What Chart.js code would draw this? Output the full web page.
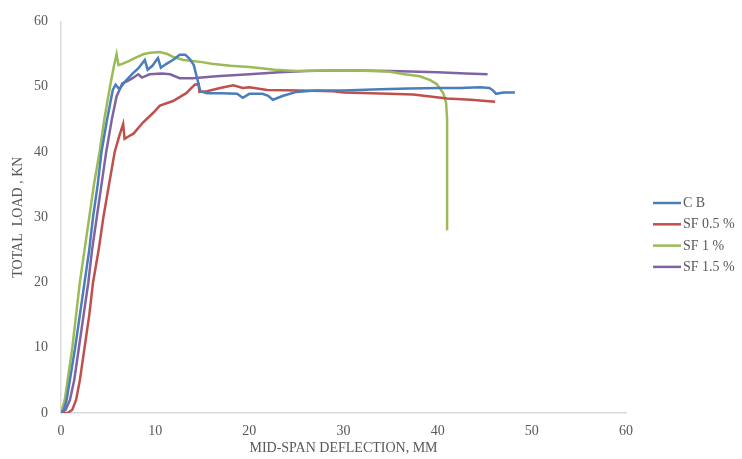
<!DOCTYPE html>
<html>
<head>
<meta charset="utf-8">
<script src="https://cdn.jsdelivr.net/npm/chart.js@4.4.1/dist/chart.umd.min.js"></script>
<style>
  html, body { margin: 0; padding: 0; background: #fff; }
  #wrap { width: 742px; height: 459px; }
</style>
</head>
<body>
<div id="wrap"><canvas id="chart" width="742" height="459"></canvas></div>
<script>
// Load-deflection curves
const seriesNames = ['C B', 'SF 0.5 %', 'SF 1 %', 'SF 1.5 %'];
const seriesColors = ['#4a7ebb', '#c0504d', '#9bbb59', '#8064a2'];

const cbX = [0, 0.3, 0.6, 1.5, 2.0, 2.5, 3.0, 3.4, 3.9, 4.3, 4.9, 5.5, 5.8, 6.2, 6.8, 7.6, 8.2, 8.9, 9.2, 9.7, 10.3, 10.6, 11.2, 12.0, 12.6, 13.2, 13.7, 14.1, 14.4, 14.8, 15.5, 17, 18.7, 19.3, 20, 21.4, 22, 22.5, 23.6, 25, 27, 30, 33.9, 37, 40.2, 42.4, 44.5, 45.5, 45.9, 46.2, 47, 48.2];
const cbY = [0, 0.5, 2, 10, 15, 20, 25, 30, 35, 40, 45, 49.5, 50.3, 49.6, 50.8, 52.0, 52.8, 54.1, 52.6, 53.2, 54.4, 52.9, 53.5, 54.2, 54.9, 54.9, 54.2, 53.3, 51.6, 49.3, 49.0, 49.0, 48.9, 48.3, 48.9, 48.9, 48.6, 48.0, 48.6, 49.2, 49.4, 49.4, 49.6, 49.7, 49.8, 49.8, 49.9, 49.8, 49.4, 48.9, 49.1, 49.1];

const sf05X = [0, 0.7, 1.2, 1.6, 2.0, 2.5, 3.0, 3.4, 4.0, 4.5, 5.1, 5.7, 6.2, 6.6, 6.75, 7.2, 7.7, 8.7, 9.8, 10.5, 11.9, 13.3, 14.2, 14.6, 14.7, 15.5, 16.9, 18.3, 19.3, 20, 21.9, 25.4, 28.9, 30, 33, 37.4, 41, 43.5, 46.1];
const sf05Y = [0, 0, 0.5, 2, 5, 10, 15, 20, 25, 30, 35, 40, 42.5, 44.3, 42.0, 42.4, 42.8, 44.5, 46.0, 47.1, 47.8, 49.0, 50.3, 50.4, 49.2, 49.3, 49.8, 50.2, 49.8, 49.9, 49.5, 49.4, 49.3, 49.1, 49.0, 48.8, 48.2, 48.0, 47.7];

const sf1X = [0, 0.4, 0.8, 1.2, 1.6, 2.0, 2.5, 3.0, 3.5, 4.1, 4.6, 5.2, 5.6, 5.9, 6.1, 6.5, 7.2, 8, 8.8, 9.5, 10.5, 11.3, 12, 13, 14.8, 16, 18, 20, 22.7, 25, 30, 33, 34.9, 36.5, 38.1, 39.2, 39.9, 40.6, 40.9, 41.0, 41.0];
const sf1Y = [0, 2, 6, 10, 15, 20, 25, 30, 35, 40, 45, 50, 53, 55, 53.3, 53.5, 53.9, 54.5, 55.0, 55.2, 55.3, 55.0, 54.5, 54.1, 53.8, 53.5, 53.2, 53.0, 52.6, 52.4, 52.5, 52.4, 52.3, 51.9, 51.6, 51.0, 50.4, 49.0, 47.5, 45, 28.0];

const sf15X = [0, 0.5, 0.95, 1.4, 1.9, 2.4, 2.9, 3.3, 3.8, 4.3, 4.8, 5.4, 5.9, 6.3, 6.5, 7.0, 7.6, 8.2, 8.6, 9.4, 10.7, 11.6, 12.6, 14, 16.5, 20, 23.2, 26, 30, 35, 40, 43, 45.3];
const sf15Y = [0, 0.5, 2, 5, 10, 15, 20, 25, 30, 35, 40, 45, 48.5, 49.8, 50.5, 50.8, 51.3, 51.9, 51.4, 51.9, 52.0, 51.9, 51.3, 51.3, 51.6, 51.9, 52.2, 52.4, 52.5, 52.4, 52.2, 52.0, 51.9];

const xTicks = [0, 10, 20, 30, 40, 50, 60];
const yTicks = [0, 10, 20, 30, 40, 50, 60];

const seriesX = [cbX, sf05X, sf1X, sf15X];
const seriesY = [cbY, sf05Y, sf1Y, sf15Y];

const serif = '"Liberation Serif", "Times New Roman", serif';
const textGray = '#595959';

function toPoints(xs, ys) {
    return xs.map((x, i) => ({ x: x, y: ys[i] }));
}

// legend drawn to the right, line + label like the original
const sideLegend = {
    id: 'sideLegend',
    afterDraw(chart) {
        const ctx = chart.ctx;
        ctx.save();
        ctx.font = '14px ' + serif;
        ctx.textBaseline = 'middle';
        ctx.textAlign = 'left';
        chart.data.datasets.forEach((ds, i) => {
            const y = 203 + i * 21.3;
            ctx.strokeStyle = ds.borderColor;
            ctx.lineWidth = 2.5;
            ctx.beginPath();
            ctx.moveTo(653, y);
            ctx.lineTo(681, y);
            ctx.stroke();
            ctx.fillStyle = textGray;
            ctx.fillText(ds.label, 683, y + 0.5);
        });
        ctx.restore();
    }
};

const ctx = document.getElementById('chart').getContext('2d');
new Chart(ctx, {
    type: 'scatter',
    data: {
        datasets: seriesNames.map((name, i) => ({
            label: name,
            data: toPoints(seriesX[i], seriesY[i]),
            showLine: true,
            borderColor: seriesColors[i],
            backgroundColor: seriesColors[i],
            borderWidth: 2.5,
            pointRadius: 0,
            tension: 0
        }))
    },
    options: {
        responsive: false,
        animation: false,
        layout: { padding: { left: 6, top: 14, right: 116, bottom: 0 } },
        plugins: {
            legend: { display: false },
            tooltip: { enabled: false }
        },
        scales: {
            x: {
                type: 'linear',
                min: 0,
                max: 60,
                afterBuildTicks: s => { s.ticks = xTicks.map(v => ({ value: v })); },
                afterFit: s => { s.height = 46; },
                grid: { display: false, drawTicks: false },
                border: { color: '#d9d9d9', width: 1.5 },
                ticks: { padding: 10, color: textGray, font: { family: serif, size: 14 } },
                title: {
                    display: true,
                    text: 'MID-SPAN DEFLECTION, MM',
                    color: textGray,
                    font: { family: serif, size: 14 },
                    padding: { top: 0, bottom: 2 }
                }
            },
            y: {
                type: 'linear',
                min: 0,
                max: 60,
                afterBuildTicks: s => { s.ticks = yTicks.map(v => ({ value: v })); },
                afterFit: s => { s.width = 55; },
                grid: { display: false, drawTicks: false },
                border: { color: '#d9d9d9', width: 1.5 },
                ticks: { padding: 13, color: textGray, font: { family: serif, size: 14 } },
                title: {
                    display: true,
                    text: 'TOTAL  LOAD , KN',
                    color: textGray,
                    font: { family: serif, size: 14 },
                    padding: { top: 4, bottom: 0 }
                }
            }
        }
    },
    plugins: [sideLegend]
});
</script>
</body>
</html>
